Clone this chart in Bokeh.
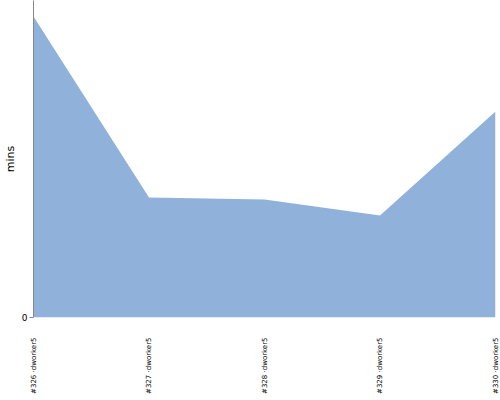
import math
from bokeh.plotting import figure
from bokeh.models import FixedTicker, Range1d
from bokeh.embed import file_html
from bokeh.resources import INLINE

builds = ["#326 ·dworker5", "#327 ·dworker5", "#328 ·dworker5", "#329 ·dworker5", "#330 ·dworker5"]
minutes = [30.1, 12.0, 11.8, 10.2, 20.6]

xs = list(range(len(builds)))

p = figure(width=500, height=400, output_backend="svg", toolbar_location=None,
           x_range=Range1d(0, len(builds) - 1), y_range=Range1d(0, 31.7),
           min_border_left=33, min_border_right=5, min_border_top=0, min_border_bottom=83)
p.outline_line_color = None
p.grid.visible = False
p.background_fill_color = "white"
p.border_fill_color = "white"

p.varea(x=xs, y1=[0] * len(xs), y2=minutes, fill_color="#8fb1da", fill_alpha=1.0)

p.xaxis.ticker = FixedTicker(ticks=xs)
p.xaxis.major_label_overrides = {i: b for i, b in enumerate(builds)}
p.xaxis.major_label_orientation = math.pi / 2
p.xaxis.axis_line_color = None
p.xaxis.major_tick_line_color = None
p.xaxis.minor_tick_line_color = None
p.xaxis.major_label_standoff = 14
p.xaxis.major_label_text_font = "DejaVu Sans"
p.xaxis.major_label_text_font_size = "7px"
p.xaxis.major_label_text_color = "black"

p.yaxis.ticker = FixedTicker(ticks=[0])
p.yaxis.axis_line_color = "#888888"
p.yaxis.major_tick_line_color = "#888888"
p.yaxis.major_tick_out = 4
p.yaxis.major_tick_in = 0
p.yaxis.minor_tick_line_color = None
p.yaxis.major_label_standoff = 2
p.yaxis.major_label_text_font = "DejaVu Sans"
p.yaxis.major_label_text_font_size = "9px"
p.yaxis.major_label_text_color = "black"
p.yaxis.axis_label = "mins"
p.yaxis.axis_label_text_font = "DejaVu Sans"
p.yaxis.axis_label_text_font_size = "11px"
p.yaxis.axis_label_text_font_style = "normal"
p.yaxis.axis_label_text_color = "black"
p.yaxis.axis_label_standoff = 2

open("out.html", "w").write(file_html(p, INLINE))
